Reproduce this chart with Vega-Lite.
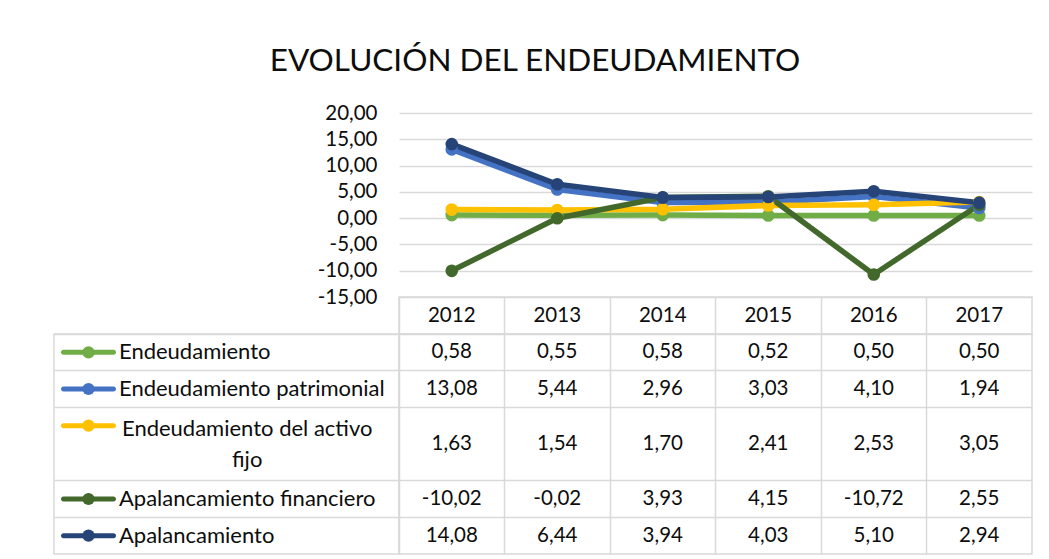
{
  "$schema": "https://vega.github.io/schema/vega-lite/v6.json",
  "background": "white",
  "padding": {"left": 53, "top": 45, "right": 10, "bottom": 4},
  "title": {"text": "EVOLUCIÓN DEL ENDEUDAMIENTO", "fontSize": 31.5, "font": "Lato", "fontWeight": "normal", "color": "#0d0d0d", "anchor": "middle", "offset": 26, "dx": -8},
  "datasets": {
    "d": [
      {"serie": "Endeudamiento", "year": "2012", "value": 0.58},
      {"serie": "Endeudamiento", "year": "2013", "value": 0.55},
      {"serie": "Endeudamiento", "year": "2014", "value": 0.58},
      {"serie": "Endeudamiento", "year": "2015", "value": 0.52},
      {"serie": "Endeudamiento", "year": "2016", "value": 0.50},
      {"serie": "Endeudamiento", "year": "2017", "value": 0.50},
      {"serie": "Endeudamiento patrimonial", "year": "2012", "value": 13.08},
      {"serie": "Endeudamiento patrimonial", "year": "2013", "value": 5.44},
      {"serie": "Endeudamiento patrimonial", "year": "2014", "value": 2.96},
      {"serie": "Endeudamiento patrimonial", "year": "2015", "value": 3.03},
      {"serie": "Endeudamiento patrimonial", "year": "2016", "value": 4.10},
      {"serie": "Endeudamiento patrimonial", "year": "2017", "value": 1.94},
      {"serie": "Endeudamiento del activo fijo", "year": "2012", "value": 1.63},
      {"serie": "Endeudamiento del activo fijo", "year": "2013", "value": 1.54},
      {"serie": "Endeudamiento del activo fijo", "year": "2014", "value": 1.70},
      {"serie": "Endeudamiento del activo fijo", "year": "2015", "value": 2.41},
      {"serie": "Endeudamiento del activo fijo", "year": "2016", "value": 2.53},
      {"serie": "Endeudamiento del activo fijo", "year": "2017", "value": 3.05},
      {"serie": "Apalancamiento financiero", "year": "2012", "value": -10.02},
      {"serie": "Apalancamiento financiero", "year": "2013", "value": -0.02},
      {"serie": "Apalancamiento financiero", "year": "2014", "value": 3.93},
      {"serie": "Apalancamiento financiero", "year": "2015", "value": 4.15},
      {"serie": "Apalancamiento financiero", "year": "2016", "value": -10.72},
      {"serie": "Apalancamiento financiero", "year": "2017", "value": 2.55},
      {"serie": "Apalancamiento", "year": "2012", "value": 14.08},
      {"serie": "Apalancamiento", "year": "2013", "value": 6.44},
      {"serie": "Apalancamiento", "year": "2014", "value": 3.94},
      {"serie": "Apalancamiento", "year": "2015", "value": 4.03},
      {"serie": "Apalancamiento", "year": "2016", "value": 5.10},
      {"serie": "Apalancamiento", "year": "2017", "value": 2.94}
    ]
  },
  "config": {
    "locale": {"number": {"decimal": ",", "thousands": ".", "grouping": [3], "currency": ["", " €"], "minus": "-"}},
    "view": {"stroke": null},
    "font": "Lato",
    "text": {"font": "Lato", "fontSize": 20.5, "color": "#0d0d0d"},
    "axis": {"labelFont": "Lato"}
  },
  "columns": 2,
  "spacing": 0,
  "bounds": "flush",
  "align": "each",
  "resolve": {"scale": {"x": "independent", "y": "independent", "color": "shared"}},
  "concat": [
    {
      "width": 345, "height": 184,
      "data": {"values": [{}]},
      "mark": {"type": "text"},
      "encoding": {"text": {"value": ""}}
    },
    {
      "width": 633, "height": 184,
      "data": {"name": "d"},
      "encoding": {
        "x": {"field": "year", "type": "ordinal", "axis": null, "scale": {"type": "point", "padding": 0.5}},
        "y": {"field": "value", "type": "quantitative",
              "scale": {"domain": [-15, 20], "nice": false, "zero": false},
              "axis": {"values": [-15, -10, -5, 0, 5, 10, 15, 20], "format": ".2f", "title": null, "domain": false, "ticks": false,
                       "labelFontSize": 20.5, "labelPadding": 22, "labelColor": "#0d0d0d",
                       "grid": true, "gridColor": "#D9D9D9", "gridWidth": 1.5}},
        "color": {"field": "serie", "type": "nominal",
                  "scale": {"domain": ["Endeudamiento", "Endeudamiento patrimonial", "Endeudamiento del activo fijo", "Apalancamiento financiero", "Apalancamiento"],
                            "range": ["#70AD47", "#4472C4", "#FFC000", "#43682B", "#264478"]},
                  "legend": null}
      },
      "layer": [
        {"mark": {"type": "line", "strokeWidth": 5.5, "strokeJoin": "round", "strokeCap": "round"}},
        {"mark": {"type": "point", "filled": true, "opacity": 1, "size": 160}}
      ]
    },
    {
      "width": 345, "height": 37,
      "data": {"values": [{}]},
      "mark": {"type": "text"},
      "encoding": {"text": {"value": ""}}
    },
    {
      "width": 633, "height": 37,
      "data": {"name": "d"},
      "transform": [{"filter": "datum.serie === 'Endeudamiento'"}],
      "view": {"stroke": "#D9D9D9", "strokeWidth": 1.5},
      "mark": {"type": "text", "fontSize": 20.5},
      "encoding": {
        "x": {"field": "year", "type": "ordinal", "scale": {"type": "band", "paddingInner": 0, "paddingOuter": 0},
              "axis": {"labels": false, "ticks": false, "domain": false, "title": null, "grid": true, "gridColor": "#D9D9D9", "gridWidth": 1.5, "bandPosition": 0}},
        "text": {"field": "year"}
      }
    },
    {
      "width": 345, "height": 220,
      "data": {"name": "d"},
      "transform": [{"filter": "datum.year === '2012'"}],
      "view": {"stroke": "#D9D9D9", "strokeWidth": 1.5},
      "encoding": {
        "y": {"field": "serie", "type": "ordinal",
              "scale": {"type": "band", "domain": ["Endeudamiento", "Endeudamiento patrimonial", "Endeudamiento del activo fijo", "_", "Apalancamiento financiero", "Apalancamiento"], "paddingInner": 0, "paddingOuter": 0},
              "axis": {"labels": false, "ticks": false, "domain": false, "title": null, "grid": true, "gridColor": "#D9D9D9", "gridWidth": 1.5, "bandPosition": 0,
                       "gridOpacity": {"condition": {"test": "datum.value === '_'", "value": 0}, "value": 1}}}
      },
      "layer": [
        {
          "mark": {"type": "tick", "orient": "horizontal", "size": 55, "thickness": 5, "opacity": 1, "cornerRadius": 2.5},
          "encoding": {
            "x": {"datum": "clave", "type": "ordinal", "scale": {"type": "band", "domain": ["clave", "n1", "n2", "n3", "n4"], "paddingInner": 0, "paddingOuter": 0}, "axis": null},
            "color": {"field": "serie", "type": "nominal", "legend": null}
          }
        },
        {
          "mark": {"type": "point", "filled": true, "opacity": 1, "size": 150},
          "encoding": {
            "x": {"datum": "clave", "type": "ordinal"},
            "color": {"field": "serie", "type": "nominal", "legend": null}
          }
        },
        {
          "transform": [{"filter": "datum.serie !== 'Endeudamiento del activo fijo'"}],
          "mark": {"type": "text", "align": "left", "fontSize": 22, "dx": -4},
          "encoding": {
            "x": {"datum": "n1", "type": "ordinal", "bandPosition": 0},
            "text": {"field": "serie"}
          }
        },
        {
          "transform": [{"filter": "datum.serie === 'Endeudamiento del activo fijo'"}],
          "mark": {"type": "text", "align": "center", "fontSize": 22, "yOffset": 3, "lineHeight": 31},
          "encoding": {
            "x": {"datum": "n2", "type": "ordinal", "bandPosition": 0.8},
            "text": {"value": ["Endeudamiento del activo", "fijo"]}
          }
        }
      ]
    },
    {
      "width": 633, "height": 220,
      "data": {"name": "d"},
      "view": {"stroke": "#D9D9D9", "strokeWidth": 1.5},
      "encoding": {
        "x": {"field": "year", "type": "ordinal", "scale": {"type": "band", "paddingInner": 0, "paddingOuter": 0},
              "axis": {"labels": false, "ticks": false, "domain": false, "title": null, "grid": true, "gridColor": "#D9D9D9", "gridWidth": 1.5, "bandPosition": 0}},
        "y": {"field": "serie", "type": "ordinal",
              "scale": {"type": "band", "domain": ["Endeudamiento", "Endeudamiento patrimonial", "Endeudamiento del activo fijo", "_", "Apalancamiento financiero", "Apalancamiento"], "paddingInner": 0, "paddingOuter": 0},
              "axis": {"labels": false, "ticks": false, "domain": false, "title": null, "grid": true, "gridColor": "#D9D9D9", "gridWidth": 1.5, "bandPosition": 0,
                       "gridOpacity": {"condition": {"test": "datum.value === '_'", "value": 0}, "value": 1}}},
        "text": {"field": "value", "type": "quantitative", "format": ".2f"}
      },
      "layer": [
        {"transform": [{"filter": "datum.serie !== 'Endeudamiento del activo fijo'"}], "mark": {"type": "text", "fontSize": 20.5}},
        {"transform": [{"filter": "datum.serie === 'Endeudamiento del activo fijo'"}], "mark": {"type": "text", "fontSize": 20.5, "yOffset": 18.3}}
      ]
    }
  ]
}
